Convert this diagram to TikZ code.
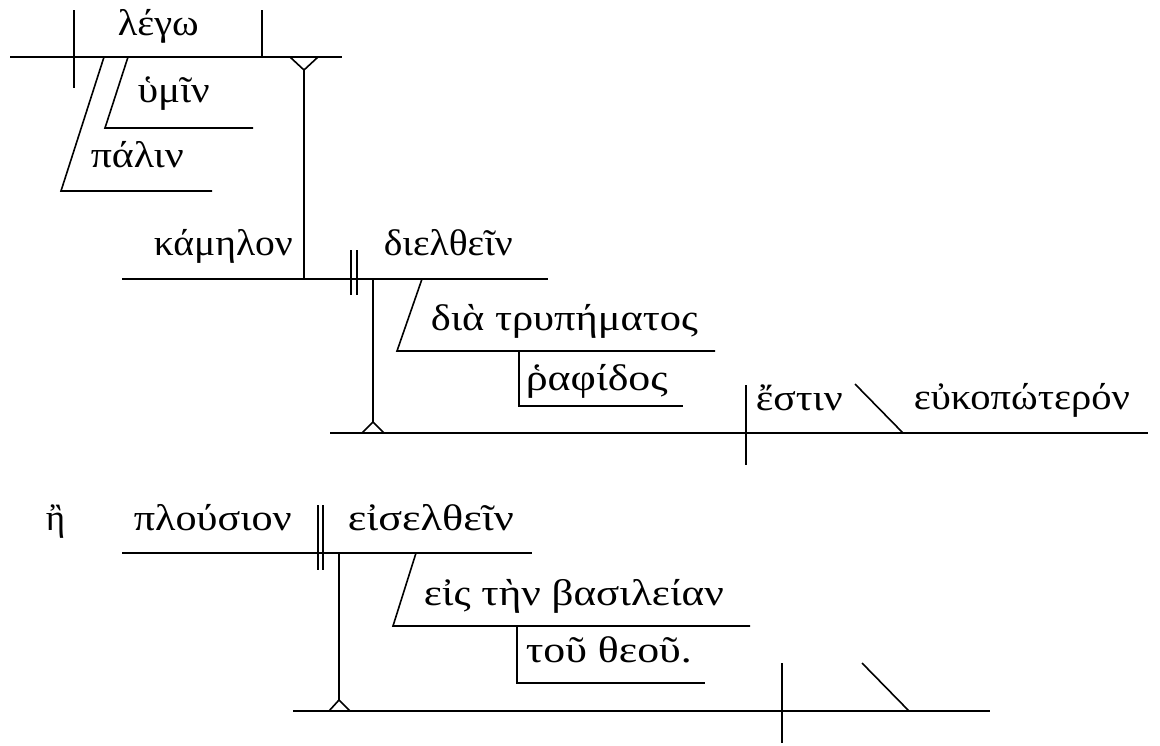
\documentclass[tikz,border=0pt]{standalone}
\usepackage{fontspec}
\setmainfont{Liberation Serif}
\newlength\gkw
% set #2 so that its width becomes #1 pt
\newcommand\fitw[2]{\settowidth\gkw{#2}\pgfmathsetmacro\gkf{#1/\gkw}\scalebox{\gkf}[1]{#2}}
\begin{document}
\begin{tikzpicture}[x=1pt,y=-1pt,line width=1.6pt,
  word/.style={anchor=base west,inner sep=0pt,font=\fontsize{37}{44}\selectfont}]
\useasboundingbox (0,0) rectangle (1160,745);
% ---------- first sentence ----------
\coordinate (tl) at (10,57);   \coordinate (tr) at (342,57);
\draw (tl) -- (tr);
\draw (74,10) -- (74,88);
\draw (262,10) -- (262,57);
\node[word] (lego) at (117,35) {\fitw{81}{λέγω}};
\coordinate (yl) at (290,57); \coordinate (ya) at (304,70); \coordinate (yr) at (318,57);
\coordinate (kv) at (304,279);
\draw (yl) -- (ya) -- (yr);
\draw (ya) -- (kv);
\draw (128,57) -- (105,128) -- (253,128);
\node[word] (hymin) at (137,102) {\fitw{72}{ὑμῖν}};
\draw (104,57) -- (61,191) -- (212,191);
\node[word] (palin) at (90,167) {\fitw{93}{πάλιν}};
\coordinate (kl) at (122,279); \coordinate (kr) at (548,279);
\draw (kl) -- (kr);
\node[word] (kamelon) at (153,255) {\fitw{139}{κάμηλον}};
\draw (351,250) -- (351,295);
\draw (357,250) -- (357,295);
\node[word] (dielthein) at (383,255) {\fitw{129}{διελθεῖν}};
\coordinate (s1) at (373,422);
\draw (373,279) -- (s1);
\draw (362,433) -- (s1) -- (384,433);
\draw (422,279) -- (397,351) -- (715,351);
\node[word] (dia) at (430,330) {\fitw{267}{διὰ τρυπήματος}};
\draw (519,351) -- (519,406) -- (683,406);
\node[word] (raphidos) at (525,390) {\fitw{142}{ῥαφίδος}};
\draw (330,433) -- (1148,433);
\draw (746,385) -- (746,465);
\node[word] (estin) at (755,410) {\fitw{87}{ἔστιν}};
\draw (855,384) -- (903,433);
\node[word] (eukop) at (913,409) {\fitw{216}{εὐκοπώτερόν}};
% ---------- second sentence ----------
\node[word] (e) at (45,530) {ἢ};
\draw (122,553) -- (532,553);
\node[word] (plousion) at (133,530) {\fitw{158}{πλούσιον}};
\draw (318,505) -- (318,570);
\draw (323,505) -- (323,570);
\node[word] (eiselthein) at (347,530) {\fitw{166}{εἰσελθεῖν}};
\coordinate (s2) at (339,700);
\draw (339,553) -- (s2);
\draw (329,711) -- (s2) -- (350,711);
\draw (416,553) -- (393,626) -- (750,626);
\node[word] (eis) at (423,605) {\fitw{300}{εἰς τὴν βασιλείαν}};
\draw (517,626) -- (517,683) -- (705,683);
\node[word] (tou) at (525,662) {\fitw{166}{τοῦ θεοῦ.}};
\draw (293,711) -- (990,711);
\draw (782,663) -- (782,743);
\draw (862,663) -- (909,711);
\end{tikzpicture}
\end{document}
